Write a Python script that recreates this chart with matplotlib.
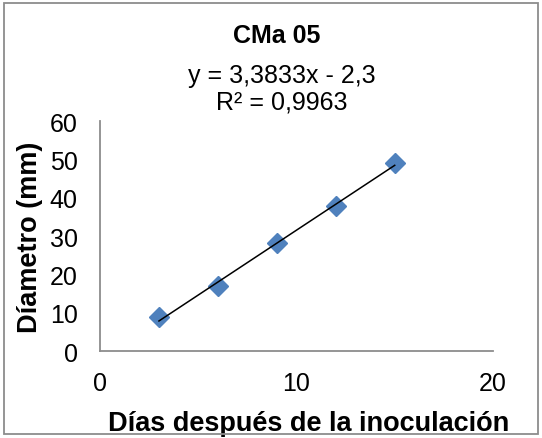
import numpy as np
import matplotlib.pyplot as plt
from matplotlib.patches import Rectangle

plt.rcParams['font.family'] = ['Liberation Sans', 'DejaVu Sans']

# Growth of the colony over time
dias = [3, 6, 9, 12, 15]
diametro = [8.9, 16.9, 28.1, 37.8, 49.1]

# Linear trend line as reported on the chart
pendiente = 3.3833
intercepto = -2.3
r2 = 0.9963

titulo = "CMa 05"
x_ticks = [0, 10, 20]
y_ticks = [0, 10, 20, 30, 40, 50, 60]


def fmt(v):
    return f"{v}".replace(".", ",")


fig = plt.figure(figsize=(5.42, 4.39), dpi=100)
ax = fig.add_axes([0.1845, 0.198, 0.725, 0.524])

xs = np.array([min(dias), max(dias)])
ax.plot(xs, pendiente * xs + intercepto, color="black", lw=1.1, zorder=3)
ax.plot(dias, diametro, linestyle="none", marker="D", ms=10,
        color="#4F81BD", zorder=2)

ax.set_xlim(0, 20)
ax.set_ylim(0, 60)
ax.set_xticks(x_ticks)
ax.set_yticks(y_ticks)
ax.tick_params(length=0, labelsize=18, pad=16)
ax.tick_params(axis="x", pad=14)

for side in ["top", "right"]:
    ax.spines[side].set_visible(False)
for side in ["left", "bottom"]:
    ax.spines[side].set_color("#8C8C8C")
    ax.spines[side].set_linewidth(1.3)

ax.set_xlabel("Días después de la inoculación", fontsize=19.5,
              fontweight="bold")
ax.xaxis.set_label_coords(0.53, -0.255)
ax.xaxis.label.set_va("top")
ax.set_ylabel("Díametro (mm)", fontsize=19.5, fontweight="bold",
              labelpad=5)

fig.text(0.51, 1 - 36 / 439, titulo, ha="center", va="center",
         fontsize=18, fontweight="bold")
fig.text(0.52, 1 - 89 / 439,
         f"y = {fmt(pendiente)}x - {fmt(abs(intercepto))}\nR² = {fmt(r2)}",
         ha="center", va="center", fontsize=18, linespacing=1.12)

# Chart area border
fig.patches.append(Rectangle((0.008, 0.008), 0.984, 0.984,
                             transform=fig.transFigure, fill=False,
                             edgecolor="#8C8C8C", lw=1.3))

fig.savefig("out.png", dpi=100)
